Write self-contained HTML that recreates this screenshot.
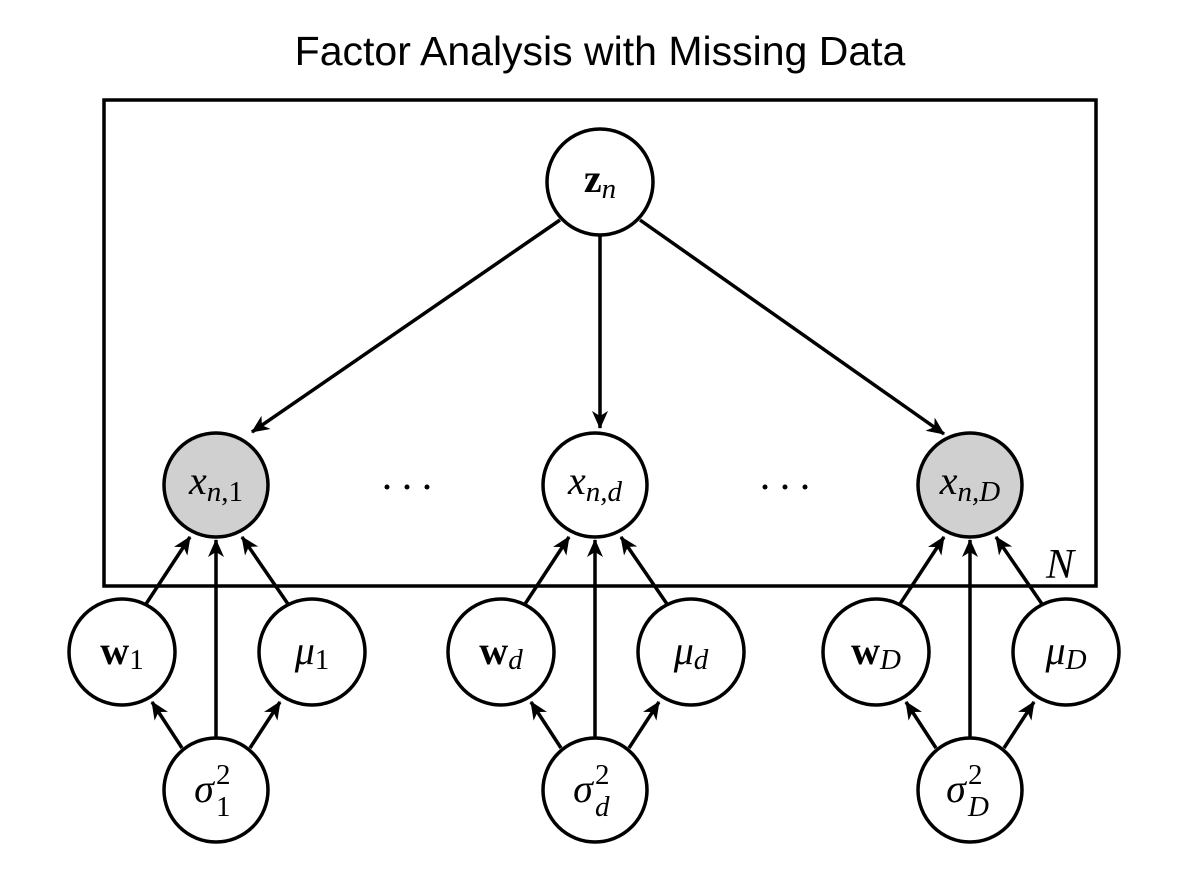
<!DOCTYPE html>
<html><head><meta charset="utf-8"><style>
body{margin:0;background:#fff}
svg{display:block}
text{font-family:"Liberation Serif",serif;fill:#000}
.t{font-family:"Liberation Sans",sans-serif}
</style></head><body>
<svg width="1200" height="885" viewBox="0 0 1200 885" xmlns="http://www.w3.org/2000/svg">
<defs>
<marker id="a" viewBox="-18 -9 20 18" refX="0" refY="0" markerWidth="20" markerHeight="18" markerUnits="userSpaceOnUse" orient="auto">
<path d="M-17,-8 L1,0 L-17,8 L-12,0 Z" fill="#000"/>
</marker>
</defs>
<text class="t" x="600" y="65" font-size="41" text-anchor="middle">Factor Analysis with Missing Data</text>
<rect x="104" y="100" width="992" height="486" fill="none" stroke="#000" stroke-width="3.5"/>
<g stroke="#000" stroke-width="3.5" fill="none">
<line x1="560" y1="220" x2="252" y2="432" marker-end="url(#a)"/>
<line x1="600" y1="235" x2="600" y2="428" marker-end="url(#a)"/>
<line x1="640" y1="220" x2="944" y2="434" marker-end="url(#a)"/>
</g>
<g stroke="#000" stroke-width="3.5" fill="none">
<g id="grp">
<line x1="146" y1="604" x2="190" y2="537" marker-end="url(#a)"/>
<line x1="216" y1="738" x2="216" y2="540" marker-end="url(#a)"/>
<line x1="288" y1="604" x2="242" y2="537" marker-end="url(#a)"/>
<line x1="182" y1="748" x2="152" y2="702" marker-end="url(#a)"/>
<line x1="250" y1="748" x2="280" y2="702" marker-end="url(#a)"/>
</g>
<use href="#grp" x="379"/>
<use href="#grp" x="754"/>
</g>
<g stroke="#000" stroke-width="3.5">
<circle cx="600" cy="182" r="53" fill="#fff"/>
<circle cx="216" cy="485" r="52" fill="#d0d0d0"/>
<circle cx="595" cy="485" r="52" fill="#fff"/>
<circle cx="970" cy="485" r="52" fill="#d0d0d0"/>
<circle cx="122" cy="652" r="53" fill="#fff"/>
<circle cx="312" cy="652" r="53" fill="#fff"/>
<circle cx="216" cy="790" r="52" fill="#fff"/>
<circle cx="501" cy="652" r="53" fill="#fff"/>
<circle cx="691" cy="652" r="53" fill="#fff"/>
<circle cx="595" cy="790" r="52" fill="#fff"/>
<circle cx="876" cy="652" r="53" fill="#fff"/>
<circle cx="1066" cy="652" r="53" fill="#fff"/>
<circle cx="970" cy="790" r="52" fill="#fff"/>
</g>
<g fill="#000">
<circle cx="387" cy="487" r="2.5"/><circle cx="407" cy="487" r="2.5"/><circle cx="427" cy="487" r="2.5"/>
<circle cx="765" cy="487" r="2.5"/><circle cx="785" cy="487" r="2.5"/><circle cx="805" cy="487" r="2.5"/>
</g>
<g font-size="40">
<text x="600" y="192" text-anchor="middle"><tspan font-weight="bold">z</tspan><tspan font-style="italic" font-size="29" dy="6">n</tspan></text>
<text x="216" y="494" text-anchor="middle"><tspan font-style="italic">x</tspan><tspan font-size="29" dy="7"><tspan font-style="italic">n</tspan>,1</tspan></text>
<text x="595" y="494" text-anchor="middle"><tspan font-style="italic">x</tspan><tspan font-size="29" dy="7" font-style="italic">n,d</tspan></text>
<text x="970" y="494" text-anchor="middle"><tspan font-style="italic">x</tspan><tspan font-size="29" dy="7" font-style="italic">n,D</tspan></text>
<text x="1060" y="578" font-style="italic" font-size="42" text-anchor="middle">N</text>
<text x="122" y="664" text-anchor="middle"><tspan font-weight="bold">w</tspan><tspan font-size="29" dy="5">1</tspan></text>
<text x="312" y="664" text-anchor="middle"><tspan font-style="italic">μ</tspan><tspan font-size="29" dy="5">1</tspan></text>
<text x="501" y="664" text-anchor="middle"><tspan font-weight="bold">w</tspan><tspan font-size="29" dy="5" font-style="italic">d</tspan></text>
<text x="691" y="664" text-anchor="middle"><tspan font-style="italic">μ</tspan><tspan font-size="29" dy="5" font-style="italic">d</tspan></text>
<text x="876" y="664" text-anchor="middle"><tspan font-weight="bold">w</tspan><tspan font-size="29" dy="5" font-style="italic">D</tspan></text>
<text x="1066" y="664" text-anchor="middle"><tspan font-style="italic">μ</tspan><tspan font-size="29" dy="5" font-style="italic">D</tspan></text>
<text x="204" y="802" font-style="italic" text-anchor="middle">σ</text><text x="216" y="784" font-size="29">2</text><text x="216" y="816" font-size="29">1</text>
<text x="583" y="802" font-style="italic" text-anchor="middle">σ</text><text x="595" y="784" font-size="29">2</text><text x="595" y="816" font-size="29" font-style="italic">d</text>
<text x="956" y="802" font-style="italic" text-anchor="middle">σ</text><text x="968" y="784" font-size="29">2</text><text x="968" y="816" font-size="29" font-style="italic">D</text>
</g>
</svg>
</body></html>
